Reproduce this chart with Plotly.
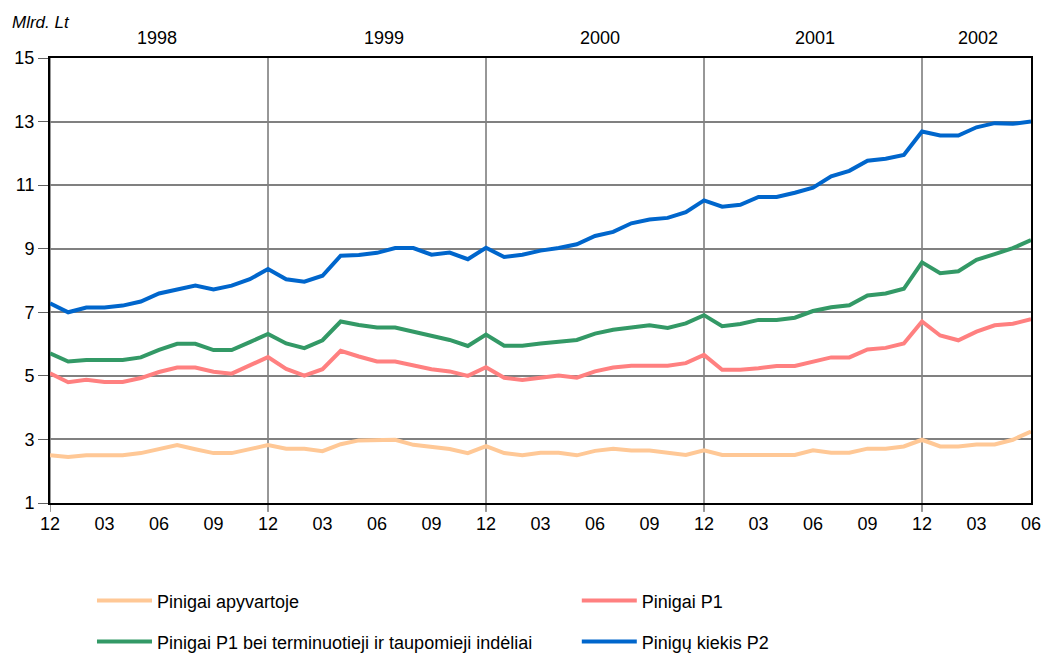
import plotly.graph_objects as go

months = (["1997-12"] + [f"1998-{m:02d}" for m in range(1, 13)] + [f"1999-{m:02d}" for m in range(1, 13)]
          + [f"2000-{m:02d}" for m in range(1, 13)] + [f"2001-{m:02d}" for m in range(1, 13)]
          + [f"2002-{m:02d}" for m in range(1, 7)])

apyvartoje = [2.50, 2.45, 2.50, 2.50, 2.50, 2.57, 2.71, 2.82, 2.69, 2.57, 2.57, 2.69, 2.82,
              2.71, 2.71, 2.63, 2.85, 2.97, 2.99, 2.99, 2.83, 2.77, 2.70, 2.57, 2.79,
              2.57, 2.50, 2.58, 2.58, 2.50, 2.64, 2.71, 2.65, 2.65, 2.58, 2.51, 2.66,
              2.51, 2.51, 2.51, 2.51, 2.51, 2.66, 2.58, 2.58, 2.71, 2.71, 2.78, 2.99,
              2.78, 2.78, 2.84, 2.84, 2.99, 3.25]
p1 = [5.08, 4.80, 4.88, 4.81, 4.81, 4.93, 5.12, 5.26, 5.26, 5.13, 5.07, 5.34, 5.59,
      5.22, 5.01, 5.21, 5.79, 5.61, 5.45, 5.45, 5.32, 5.21, 5.14, 5.00, 5.27,
      4.94, 4.87, 4.95, 5.01, 4.94, 5.14, 5.26, 5.32, 5.32, 5.32, 5.40, 5.66,
      5.19, 5.19, 5.24, 5.31, 5.31, 5.45, 5.58, 5.58, 5.83, 5.88, 6.02, 6.71,
      6.27, 6.12, 6.39, 6.59, 6.64, 6.78]
p1_ind = [5.71, 5.45, 5.50, 5.50, 5.50, 5.58, 5.82, 6.01, 6.01, 5.81, 5.81, 6.06, 6.32,
          6.02, 5.87, 6.12, 6.71, 6.60, 6.52, 6.52, 6.39, 6.28, 6.13, 5.94, 6.30,
          5.95, 5.95, 6.02, 6.07, 6.13, 6.33, 6.45, 6.52, 6.59, 6.51, 6.65, 6.91,
          6.56, 6.63, 6.76, 6.76, 6.83, 7.04, 7.16, 7.22, 7.53, 7.59, 7.74, 8.57,
          8.23, 8.29, 8.65, 8.83, 9.02, 9.27]
p2 = [7.28, 7.00, 7.15, 7.15, 7.21, 7.34, 7.59, 7.73, 7.84, 7.72, 7.84, 8.04, 8.36,
      8.04, 7.96, 8.15, 8.78, 8.80, 8.87, 9.02, 9.02, 8.81, 8.88, 8.67, 9.03,
      8.74, 8.81, 8.94, 9.02, 9.14, 9.40, 9.53, 9.80, 9.92, 9.97, 10.15, 10.52,
      10.32, 10.38, 10.63, 10.63, 10.76, 10.92, 11.28, 11.45, 11.77, 11.83, 11.95, 12.69,
      12.56, 12.56, 12.82, 12.95, 12.93, 13.00]

series_names = ["Pinigai apyvartoje", "Pinigai P1",
                "Pinigai P1 bei terminuotieji ir taupomieji indėliai", "Pinigų kiekis P2"]
series_colors = ["#FFC896", "#FF8080", "#339966", "#0066CC"]
series_legend = ["legend", "legend2", "legend3", "legend4"]

year_labels = ["1998", "1999", "2000", "2001", "2002"]
year_label_pos = [5.9, 18.4, 30.3, 42.1, 51.1]

tick_vals = months[::3]
tick_text = [m[-2:] for m in tick_vals]
dec_months = [m for m in months if m.endswith("-12")]

FONT = "Liberation Sans, Arial, sans-serif"

fig = go.Figure()
for name, vals, col, lg in zip(series_names, [apyvartoje, p1, p1_ind, p2], series_colors, series_legend):
    fig.add_trace(go.Scatter(x=months, y=vals, name=name, mode="lines", showlegend=True,
                             line=dict(color=col, width=4), legend=lg))

# vertical lines at each December
for m in dec_months:
    fig.add_shape(type="line", xref="x", yref="paper", x0=m, x1=m, y0=-0.02, y1=1,
                  line=dict(color="#303030", width=1), layer="below")

for lab, pos in zip(year_labels, year_label_pos):
    fig.add_annotation(x=pos, y=1.045, xref="x", yref="paper", text=lab, showarrow=False,
                       font=dict(size=18, color="black", family=FONT), yanchor="middle")

fig.add_annotation(x=-0.041, y=1.08, xref="paper", yref="paper", text="<i>Mlrd. Lt</i>",
                   showarrow=False, xanchor="left", yanchor="middle",
                   font=dict(size=17, color="black", family=FONT))

fig.update_xaxes(type="category", range=[0, len(months) - 1], tickmode="array",
                 tickvals=tick_vals, ticktext=tick_text, showgrid=False, ticks="",
                 showline=True, linecolor="black", linewidth=2, mirror=True,
                 ticklabelstandoff=3, tickfont=dict(size=18, color="black", family=FONT))
fig.update_yaxes(range=[1, 15], tickvals=[1, 3, 5, 7, 9, 11, 13, 15], showgrid=True,
                 gridcolor="#808080", gridwidth=1.5, ticks="outside", ticklen=10,
                 tickcolor="#606060", showline=True, linecolor="black", linewidth=2,
                 mirror=True, zeroline=False, tickfont=dict(size=18, color="black", family=FONT))

legend_common = dict(orientation="h", xanchor="left", yanchor="middle", itemwidth=55,
                     font=dict(size=18, color="black", family=FONT), bgcolor="rgba(0,0,0,0)")
lx1, lx2 = 0.0428, 0.537
fig.update_layout(
    width=1042, height=655,
    showlegend=True,
    margin=dict(l=50, r=11, t=58, b=152, autoexpand=False),
    plot_bgcolor="white", paper_bgcolor="white",
    font=dict(family=FONT, color="black"),
    legend=dict(x=lx1, y=-0.22, **legend_common),
    legend2=dict(x=lx2, y=-0.22, **legend_common),
    legend3=dict(x=lx1, y=-0.312, **legend_common),
    legend4=dict(x=lx2, y=-0.312, **legend_common),
)

fig.write_html("out.html", config={"displayModeBar": False},
               post_script="document.body.style.margin='0';document.body.style.overflow='hidden';")
